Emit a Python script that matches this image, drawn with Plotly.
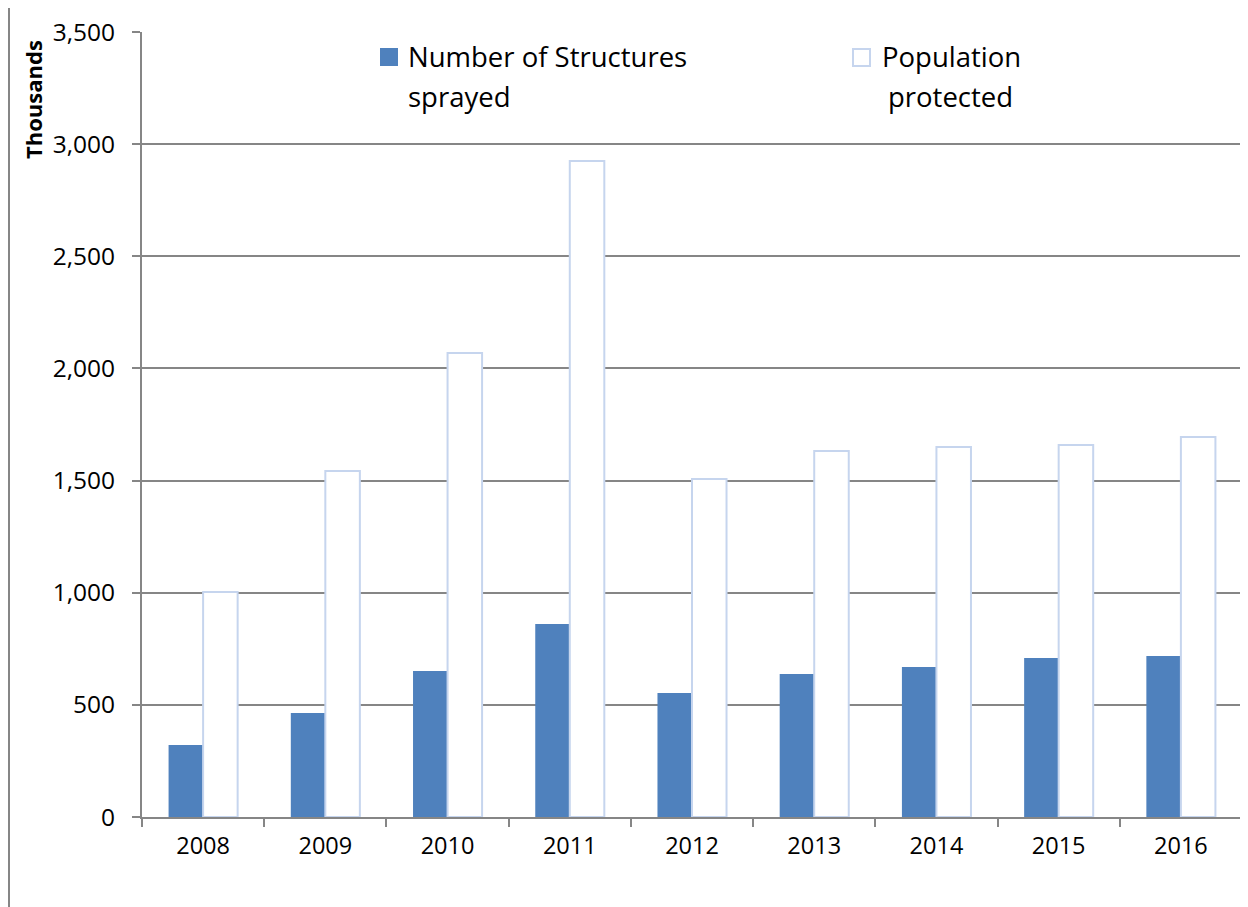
import plotly.graph_objects as go

years = ["2008", "2009", "2010", "2011", "2012", "2013", "2014", "2015", "2016"]
structures_sprayed = [321, 464, 651, 860, 553, 638, 669, 709, 718]
population_protected = [1003, 1543, 2069, 2925, 1507, 1632, 1650, 1659, 1694]
y_ticks = [0, 500, 1000, 1500, 2000, 2500, 3000, 3500]
legend_lines = [["Number of Structures", "sprayed"], ["Population", "protected"]]

FONT = "Open Sans"
GRAY = "#868686"
BLUE = "#4f81bd"
OUTLINE = "#c6d5ee"

# figure is offset by the 8px page margin; plot area spans screen x 142..1242, y 32..817
W, H = 1240, 899
ML, MR, MT, MB = 134, 6, 24, 90
PW, PH = W - ML - MR, H - MT - MB


def px(sx):  # screen x -> paper x
    return (sx - 8 - ML) / PW


def py(sy):  # screen y -> paper y
    return (H - MB - (sy - 8)) / PH


fig = go.Figure()
fig.add_trace(go.Bar(
    x=years, y=structures_sprayed,
    name="Number of Structures sprayed",
    marker=dict(color=BLUE, line=dict(width=0)),
))
fig.add_trace(go.Bar(
    x=years, y=population_protected,
    name="Population protected",
    marker=dict(color="white", line=dict(color=OUTLINE, width=2)),
))

shapes = [
    dict(type="line", xref="paper", yref="paper",
         x0=px(9), x1=px(9), y0=py(7), y1=py(1000),
         line=dict(color=GRAY, width=2)),
    dict(type="line", xref="paper", yref="paper",
         x0=px(8), x1=px(1300), y0=py(7), y1=py(7),
         line=dict(color=GRAY, width=2)),
    # legend symbols
    dict(type="rect", xref="paper", yref="paper",
         x0=px(380), x1=px(398), y0=py(48), y1=py(66),
         fillcolor=BLUE, line=dict(width=0)),
    dict(type="rect", xref="paper", yref="paper",
         x0=px(853), x1=px(870), y0=py(49), y1=py(66),
         fillcolor="white", line=dict(color=OUTLINE, width=2)),
]

annotations = [
    dict(text="<b>Thousands</b>", textangle=-90, xref="paper", yref="paper",
         x=px(33), y=py(100), xanchor="center", yanchor="middle", showarrow=False,
         font=dict(family=FONT, size=22, color="black")),
]
legend_x = [406, 880]
for lx, lines in zip(legend_x, legend_lines):
    for i, line in enumerate(lines):
        annotations.append(dict(
            text=line, xref="paper", yref="paper",
            x=px(lx + (6 if (i == 1 and lx > 800) else 0)), y=py(57 + 40 * i),
            xanchor="left", yanchor="middle", showarrow=False,
            font=dict(family=FONT, size=27.5, color="black"),
        ))

fig.update_layout(
    width=W, height=H,
    margin=dict(l=ML, r=MR, t=MT, b=MB),
    paper_bgcolor="white", plot_bgcolor="white",
    barmode="group", bargap=0.435, bargroupgap=0,
    font=dict(family=FONT, size=20, color="black"),
    showlegend=False,
    xaxis=dict(
        type="category", showline=True, linecolor=GRAY, linewidth=2,
        ticks="outside", ticklen=8, tickcolor=GRAY, tickwidth=2,
        tickson="boundaries", showgrid=False, ticklabelstandoff=7,
        tickfont=dict(family=FONT, size=23.5, color="black"),
    ),
    yaxis=dict(
        range=[0, 3500], tickvals=y_ticks, tickformat=",",
        showline=True, linecolor=GRAY, linewidth=2,
        ticks="outside", ticklen=8, tickcolor=GRAY, tickwidth=2,
        showgrid=True, gridcolor=GRAY, gridwidth=2, zeroline=False,
        ticklabelstandoff=12,
        tickfont=dict(family=FONT, size=24.5, color="black"),
    ),
    shapes=shapes,
    annotations=annotations,
)

fig.write_html("out.html")
